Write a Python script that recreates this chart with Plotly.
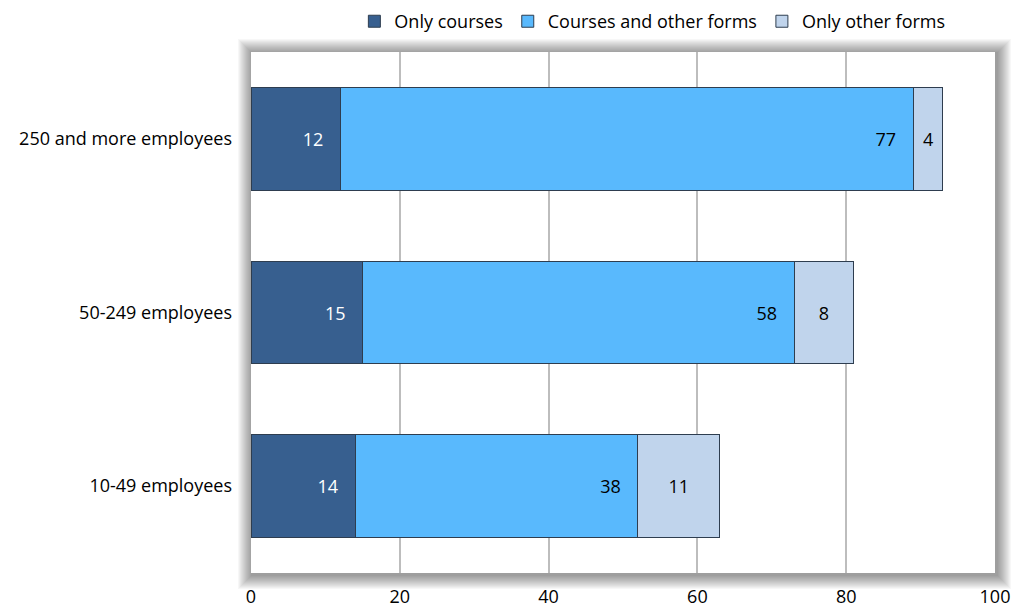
import plotly.graph_objects as go

# Enterprise size classes (bottom to top) and shares of enterprises by training form
categories = ["10-49 employees", "50-249 employees", "250 and more employees"]
only_courses = [14, 15, 12]
courses_and_other = [38, 58, 77]
only_other = [11, 8, 4]
x_ticks = [0, 20, 40, 60, 80, 100]

FONT = "Open Sans"
EDGE = "#2E3D4F"
PAD = "\u00a0\u00a0\u00a0"

fig = go.Figure()

fig.add_trace(go.Bar(
    name="Only courses", y=categories, x=only_courses, orientation="h",
    marker=dict(color="#375F8F", line=dict(color=EDGE, width=1)),
    texttemplate="%{x}" + PAD, textposition="inside", insidetextanchor="end",
    textfont=dict(color="white", size=18, family=FONT),
))
fig.add_trace(go.Bar(
    name="Courses and other forms", y=categories, x=courses_and_other, orientation="h",
    marker=dict(color="#59B9FD", line=dict(color=EDGE, width=1)),
    texttemplate="%{x}" + PAD, textposition="inside", insidetextanchor="end",
    textfont=dict(color="black", size=18, family=FONT),
))
fig.add_trace(go.Bar(
    name="Only other forms", y=categories, x=only_other, orientation="h",
    marker=dict(color="#C0D4EC", line=dict(color=EDGE, width=1)),
    texttemplate="%{x}", textposition="inside", insidetextanchor="middle",
    textfont=dict(color="black", size=18, family=FONT),
))

# soft drop shadow around the plot area, then the white plot panel itself
W, H = 744, 521
shapes = []
for k in range(14, 0, -1):
    shapes.append(dict(
        type="rect", xref="paper", yref="paper", layer="below",
        x0=-(k - 1) / W, x1=1 + (k + 2) / W,
        y0=-(k + 2) / H, y1=1 + (k - 1) / H,
        fillcolor="rgba(0,0,0,0.032)", line=dict(width=0),
    ))
shapes.append(dict(
    type="rect", xref="paper", yref="paper", layer="below",
    x0=0, x1=1, y0=0, y1=1, fillcolor="white", line=dict(width=0),
))

fig.update_layout(
    barmode="stack",
    bargap=0.41,
    width=1013, height=609,
    margin=dict(l=251, r=18, t=52, b=36),
    paper_bgcolor="white",
    plot_bgcolor="rgba(0,0,0,0)",
    font=dict(family=FONT, size=18, color="black"),
    showlegend=True,
    legend=dict(
        orientation="h", x=0.644, xref="container", xanchor="center",
        y=0.995, yref="container", yanchor="top",
        font=dict(size=18, family=FONT), traceorder="normal",
        itemwidth=30, bgcolor="rgba(0,0,0,0)",
    ),
    shapes=shapes,
    xaxis=dict(
        range=[0, 100], tickvals=x_ticks, showgrid=True, automargin=False,
        gridcolor="#BDBDBD", gridwidth=2, zeroline=False, showline=False,
        ticks="", ticklabelstandoff=11, tickfont=dict(size=18, family=FONT),
    ),
    yaxis=dict(
        categoryorder="array", categoryarray=categories, automargin=False,
        showgrid=False, zeroline=False, showline=False, ticks="",
        ticklabelstandoff=18, tickfont=dict(size=18, family=FONT),
    ),
)

fig.write_html("out.html")
